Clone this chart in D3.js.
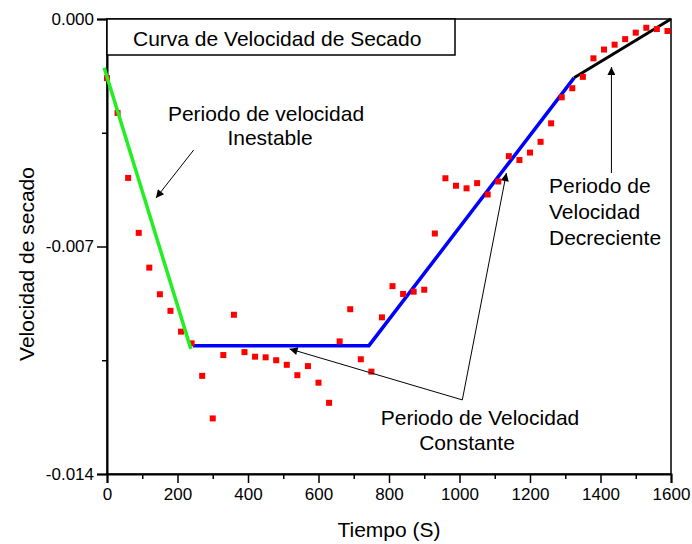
<!DOCTYPE html>
<html><head><meta charset="utf-8">
<script src="https://cdn.jsdelivr.net/npm/d3@7"></script>
<style>body{margin:0;background:#fff}text{font-family:"Liberation Sans",Arial,sans-serif}</style>
</head><body><svg id="c" width="692" height="544"></svg>
<script>
const timeS = [0,30,60,90,120,150,180,210,240,270,300,330,360,390,420,450,480,510,540,570,600,630,660,690,720,750,780,810,840,870,900,930,960,990,1020,1050,1080,1110,1140,1170,1200,1230,1260,1290,1320,1350,1380,1410,1440,1470,1500,1530,1560,1590];
const rate = [-0.00182,-0.00289,-0.00489,-0.00658,-0.00765,-0.00847,-0.00898,-0.00962,-0.00998,-0.01098,-0.01229,-0.01034,-0.00910,-0.01025,-0.01039,-0.01041,-0.01050,-0.01064,-0.01096,-0.01068,-0.01119,-0.01181,-0.00992,-0.00893,-0.01047,-0.01085,-0.00918,-0.00822,-0.00846,-0.00839,-0.00833,-0.00660,-0.00490,-0.00513,-0.00521,-0.00505,-0.00540,-0.00500,-0.00422,-0.00434,-0.00411,-0.00378,-0.00321,-0.00241,-0.00213,-0.00178,-0.00121,-0.00094,-0.00079,-0.00062,-0.00042,-0.00027,-0.00031,-0.00037];
const greenLine = [[-8,-0.0015],[238,-0.01015]];
const blueLine = [[244,-0.01005],[743,-0.01005],[1325,-0.00181]];
const blackLine = [[1325,-0.00181],[1600,0]];
const xTicks = [0,200,400,600,800,1000,1200,1400,1600];
const xMinor = [100,300,500,700,900,1100,1300,1500];
const yTicks = [0,-0.007,-0.014];
const yMinor = [-0.0035,-0.0105];
const arrows = [
  {from:[246,-0.00403], to:[139,-0.00551]},
  {from:[1008,-0.01172], to:[518,-0.01015]},
  {from:[1008,-0.01172], to:[1133,-0.00474]},
  {from:[1431,-0.00474], to:[1431,-0.00148]}
];

const svg = d3.select("#c");
const L=107,R=671,T=19,B=474;
const x = d3.scaleLinear().domain([0,1600]).range([L,R]);
const y = d3.scaleLinear().domain([-0.014,0]).range([B,T]);

svg.append("defs").append("marker").attr("id","ah").attr("viewBox","0 0 10 10")
  .attr("refX",10).attr("refY",5).attr("markerWidth",11).attr("markerHeight",8)
  .attr("markerUnits","userSpaceOnUse").attr("orient","auto")
  .append("path").attr("d","M0,0L10,5L0,10Z").attr("fill","#000");

svg.append("rect").attr("x",L).attr("y",T).attr("width",R-L).attr("height",B-T)
  .attr("fill","none").attr("stroke","#000").attr("stroke-width",1.5);

const fmtY = d => d3.format(".3f")(d).replace("\u2212","-");
svg.append("g").attr("transform",`translate(0,${B})`)
  .call(d3.axisBottom(x).tickValues(xTicks).tickFormat(d3.format("d")).tickSize(9).tickPadding(5));
svg.append("g").attr("transform",`translate(0,${B})`)
  .call(d3.axisBottom(x).tickValues(xMinor).tickFormat("").tickSize(5)).select(".domain").remove();
svg.append("g").attr("transform",`translate(${L},0)`)
  .call(d3.axisLeft(y).tickValues(yTicks).tickFormat(fmtY).tickSize(10).tickPadding(3));
svg.append("g").attr("transform",`translate(${L},0)`)
  .call(d3.axisLeft(y).tickValues(yMinor).tickFormat("").tickSize(5)).select(".domain").remove();
svg.selectAll(".domain").attr("stroke-width",2);
svg.selectAll(".tick line").attr("stroke-width",1.5);
svg.selectAll(".tick text").attr("font-size",17).attr("fill","#000");

svg.append("text").attr("x",(L+R)/2).attr("y",537).attr("text-anchor","middle")
  .attr("font-size",21).text("Tiempo (S)");
svg.append("text").attr("transform","translate(34,264) rotate(-90)").attr("text-anchor","middle")
  .attr("font-size",21).text("Velocidad de secado");

const line = d3.line().x(d=>x(d[0])).y(d=>y(d[1]));
svg.append("path").attr("d",line(blueLine)).attr("stroke","#0000ff").attr("stroke-width",3.5).attr("fill","none");
svg.append("path").attr("d",line(blackLine)).attr("stroke","#000").attr("stroke-width",3).attr("fill","none");

svg.append("g").selectAll("rect").data(timeS.map((t,i)=>[t,rate[i]])).join("rect")
  .attr("x",d=>x(d[0])-3).attr("y",d=>y(d[1])-3).attr("width",6).attr("height",6).attr("fill","#ff0000");

svg.append("path").attr("d",line(greenLine)).attr("stroke","#22ee22").attr("stroke-width",3.5).attr("fill","none");

svg.append("g").selectAll("line").data(arrows).join("line")
  .attr("x1",d=>x(d.from[0])).attr("y1",d=>y(d.from[1]))
  .attr("x2",d=>x(d.to[0])).attr("y2",d=>y(d.to[1]))
  .attr("stroke","#000").attr("stroke-width",1).attr("marker-end","url(#ah)");

svg.append("rect").attr("x",L).attr("y",T).attr("width",455-L).attr("height",55-T)
  .attr("fill","#fff").attr("stroke","#000").attr("stroke-width",1.5);
svg.append("text").attr("x",133).attr("y",46).attr("font-size",21).text("Curva de Velocidad de Secado");

const ann = (tx,ty,s,anchor)=>svg.append("text").attr("x",tx).attr("y",ty).attr("font-size",21)
  .attr("text-anchor",anchor||"middle").text(s);
ann(266,121,"Periodo de velocidad");
ann(270,145,"Inestable");
ann(480,425,"Periodo de Velocidad");
ann(467,450,"Constante");
ann(549,193,"Periodo de","start");
ann(549,219,"Velocidad","start");
ann(549,245,"Decreciente","start");
</script></body></html>
